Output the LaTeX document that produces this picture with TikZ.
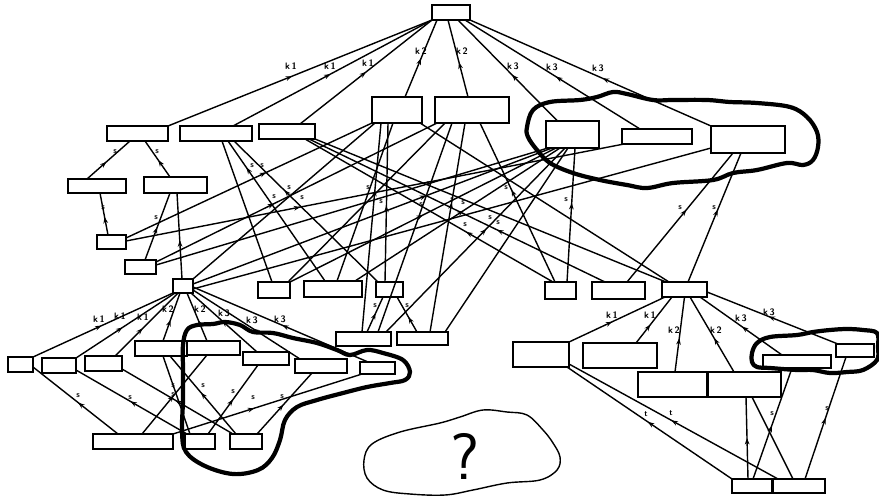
\documentclass[tikz,border=0pt]{standalone}
\usetikzlibrary{arrows.meta,decorations.markings}
\newlength{\pxu}\setlength{\pxu}{0.03cm}
\tikzset{
  bx/.style={draw, line width=1.5pt, fill=white, inner sep=0pt, outer sep=0pt},
  ln/.style={line width=1.2pt},
  marr/.style={postaction={decorate}, decoration={markings, mark=at position #1 with {\arrow{Stealth[length=5.5pt,width=4pt]}}}},
  klab/.style={font=\sffamily\bfseries\fontsize{8}{9}\selectfont, inner sep=0pt},
  slab/.style={font=\sffamily\bfseries\fontsize{7}{8}\selectfont, inner sep=0pt},
  blob/.style={line width=3.6pt, line join=round, line cap=round},
  thinblob/.style={line width=1.2pt, line join=round},
}
\begin{document}
\begin{tikzpicture}[x=0.03cm, y=-0.03cm]
\useasboundingbox (0,0) rectangle (879,499);
% ---------- boxes ----------
\node[bx, minimum width=38\pxu, minimum height=15\pxu] (T) at (451,12.5) {};
\node[bx, minimum width=61\pxu, minimum height=15\pxu] (A1) at (137.5,133.5) {};
\node[bx, minimum width=72\pxu, minimum height=15\pxu] (A2) at (216,133.5) {};
\node[bx, minimum width=56\pxu, minimum height=15\pxu] (A3) at (287,131.5) {};
\node[bx, minimum width=50\pxu, minimum height=26\pxu] (A4) at (397,110) {};
\node[bx, minimum width=74\pxu, minimum height=26\pxu] (A5) at (472,110) {};
\node[bx, minimum width=53\pxu, minimum height=27\pxu] (A6) at (572.5,134.5) {};
\node[bx, minimum width=70\pxu, minimum height=15\pxu] (A7) at (657,136.5) {};
\node[bx, minimum width=74\pxu, minimum height=27\pxu] (A8) at (748,139.5) {};
\node[bx, minimum width=58\pxu, minimum height=14\pxu] (B1) at (97,186) {};
\node[bx, minimum width=63\pxu, minimum height=16\pxu] (B2) at (175.5,185) {};
\node[bx, minimum width=29\pxu, minimum height=14\pxu] (C1) at (111.5,242) {};
\node[bx, minimum width=31\pxu, minimum height=14\pxu] (C2) at (140.5,267) {};
\node[bx, minimum width=20\pxu, minimum height=14\pxu] (D) at (183,286) {};
\node[bx, minimum width=32\pxu, minimum height=16\pxu] (E1) at (274,290) {};
\node[bx, minimum width=58\pxu, minimum height=16\pxu] (E2) at (333,289) {};
\node[bx, minimum width=27\pxu, minimum height=15\pxu] (E3) at (389.5,289.5) {};
\node[bx, minimum width=55\pxu, minimum height=14\pxu] (F1) at (363.5,339) {};
\node[bx, minimum width=51\pxu, minimum height=13\pxu] (F2) at (422.5,338.5) {};
\node[bx, minimum width=31\pxu, minimum height=17\pxu] (G1) at (560.5,290.5) {};
\node[bx, minimum width=53\pxu, minimum height=17\pxu] (G2) at (618.5,290.5) {};
\node[bx, minimum width=45\pxu, minimum height=15\pxu] (H) at (684.5,289.5) {};
\node[bx, minimum width=56\pxu, minimum height=25\pxu] (H1) at (541,354.5) {};
\node[bx, minimum width=74\pxu, minimum height=25\pxu] (H2) at (620,355.5) {};
\node[bx, minimum width=69\pxu, minimum height=25\pxu] (H3) at (672.5,384.5) {};
\node[bx, minimum width=73\pxu, minimum height=25\pxu] (H4) at (744.5,384.5) {};
\node[bx, minimum width=68\pxu, minimum height=13\pxu] (H5) at (797,361.5) {};
\node[bx, minimum width=38\pxu, minimum height=13\pxu] (H6) at (855,350.5) {};
\node[bx, minimum width=40\pxu, minimum height=14\pxu] (J1) at (752,486) {};
\node[bx, minimum width=52\pxu, minimum height=14\pxu] (J2) at (799,486) {};
\node[bx, minimum width=25\pxu, minimum height=15\pxu] (L1) at (20.5,364.5) {};
\node[bx, minimum width=34\pxu, minimum height=15\pxu] (L2) at (59,365.5) {};
\node[bx, minimum width=37\pxu, minimum height=15\pxu] (L3) at (103.5,363.5) {};
\node[bx, minimum width=52\pxu, minimum height=15\pxu] (L4) at (161,348.5) {};
\node[bx, minimum width=53\pxu, minimum height=14\pxu] (L5) at (213.5,348) {};
\node[bx, minimum width=46\pxu, minimum height=13\pxu] (L6) at (266,358.5) {};
\node[bx, minimum width=52\pxu, minimum height=14\pxu] (L7) at (321,366) {};
\node[bx, minimum width=35\pxu, minimum height=12\pxu] (L8) at (377.5,368) {};
\node[bx, minimum width=80\pxu, minimum height=15\pxu] (M1) at (133,441.5) {};
\node[bx, minimum width=30\pxu, minimum height=15\pxu] (M2) at (200,441.5) {};
\node[bx, minimum width=32\pxu, minimum height=15\pxu] (M3) at (246,441.5) {};
% ---------- top fan ----------
\draw[ln,marr=0.47] (A1.north east) -- (T.south west);
\draw[ln,marr=0.49] ([xshift=17\pxu]A2.north) -- (T.south west);
\draw[ln,marr=0.5] ([xshift=13\pxu]A3.north) -- (T.south west);
\draw[ln,marr=0.5] ([xshift=8\pxu]A4.north) -- ([xshift=5\pxu]T.south west);
\draw[ln,marr=0.45] ([xshift=-4\pxu]A5.north) -- ([xshift=-3\pxu]T.south);
\draw[ln,marr=0.46] ([xshift=-15\pxu]A6.north) -- ([xshift=7\pxu]T.south);
\draw[ln,marr=0.48] ([xshift=-17\pxu]A7.north) -- ([xshift=14\pxu]T.south);
\draw[ln,marr=0.45] (A8.north west) -- (T.south east);
\node[klab] (t1) at (291,66) {k\,1};
\node[klab] (t2) at (330,66) {k\,1};
\node[klab] (t3) at (368,63) {k\,1};
\node[klab] (t4) at (421,51) {k\,2};
\node[klab] (t5) at (462,51) {k\,2};
\node[klab] (t6) at (513,66) {k\,3};
\node[klab] (t7) at (552,67) {k\,3};
\node[klab] (t8) at (598,68) {k\,3};
% ---------- left upper cluster ----------
\draw[ln,marr=0.45] ([xshift=-10\pxu]B1.north) -- ([xshift=-7.5\pxu]A1.south);
\draw[ln,marr=0.47] ([xshift=-5.5\pxu]B2.north) -- ([xshift=7.5\pxu]A1.south);
\draw[ln,marr=0.43] ([xshift=-3.5\pxu]C1.north) -- ([xshift=3\pxu]B1.south);
\draw[ln,marr=0.49] ([xshift=4.5\pxu]C2.north) -- ([xshift=-5.5\pxu]B2.south);
\draw[ln,marr=0.45] ([xshift=-1\pxu]D.north) -- ([xshift=1.5\pxu]B2.south);
\node[slab] (s1) at (115,152) {s};
\node[slab] (s2) at (157,152) {s};
\node[slab] (s3) at (103,208) {s};
\node[slab] (s4) at (156,218) {s};
% ---------- middle web ----------
\draw[ln,marr=0.57] ([yshift=4\pxu]C1.east) -- (A4.south west);
\draw[ln,marr=0.42] ([yshift=5\pxu]C2.east) -- ([xshift=2\pxu]A5.south west);
\draw[ln] ([yshift=2\pxu]C2.east) -- ([xshift=2\pxu]A6.south west);
\draw[ln] (D.north east) -- ([xshift=3\pxu]A4.south west);
\draw[ln,marr=0.65] ([yshift=2\pxu]D.east) -- ([xshift=6\pxu]A6.south west);
\draw[ln] ([yshift=-3\pxu]D.east) -- ([yshift=-8.5\pxu]A8.west);
\draw[ln,marr=0.35] ([yshift=1\pxu]C1.east) -- ([xshift=2\pxu]A7.south west);
\draw[ln] ([xshift=-2\pxu]E1.north) -- ([xshift=6\pxu]A2.south);
\draw[ln,marr=0.81] ([xshift=-8\pxu]E2.north) -- ([xshift=12\pxu]A2.south);
\draw[ln,marr=0.65] ([xshift=-11.5\pxu]E3.north) -- ([xshift=18\pxu]A2.south);
\draw[ln] ([xshift=14\pxu]E1.north) -- ([xshift=-27\pxu]A5.south);
\draw[ln,marr=0.5] (E1.north east) -- ([xshift=10\pxu]A6.south west);
\draw[ln] ([xshift=4\pxu]E2.north) -- ([xshift=-4\pxu]A4.south);
\draw[ln,marr=0.53] ([xshift=22\pxu]E2.north) -- ([xshift=14\pxu]A6.south west);
\draw[ln,marr=0.48] ([xshift=-4.5\pxu]E3.north) -- ([xshift=-9\pxu]A4.south);
\draw[ln,marr=0.68] ([xshift=-1.5\pxu]F1.north) -- ([xshift=-16\pxu]A4.south);
\draw[ln] ([xshift=14.5\pxu]F1.north) -- ([xshift=-20\pxu]A5.south);
\draw[ln,marr=0.56] ([xshift=22.5\pxu]F1.north) -- ([xshift=-7.5\pxu]A6.south);
\draw[ln,marr=0.62] ([xshift=7.5\pxu]F2.north) -- ([xshift=-7\pxu]A5.south);
\draw[ln] ([xshift=22.5\pxu]F2.north) -- ([xshift=-4.5\pxu]A6.south);
\draw[ln,marr=0.58] ([xshift=-5.5\pxu]G1.north) -- ([xshift=8\pxu]A5.south);
\draw[ln,marr=0.59] ([xshift=6.5\pxu]G1.north) -- ([xshift=2.5\pxu]A6.south);
\draw[ln,marr=0.35] ([xshift=-7.5\pxu]G1.north) -- ([xshift=18\pxu]A3.south);
\draw[ln,marr=0.365] ([xshift=-13.5\pxu]G2.north) -- ([xshift=22\pxu]A3.south);
\draw[ln] ([xshift=-18.5\pxu]H.north) -- (A3.south east);
\draw[ln] ([xshift=-15.5\pxu]H.north) -- ([xshift=23\pxu]A4.south);
\draw[ln,marr=0.56] ([xshift=8.5\pxu]G2.north) -- ([xshift=-15\pxu]A8.south);
\draw[ln,marr=0.56] ([xshift=3.5\pxu]H.north) -- ([xshift=-7\pxu]A8.south);
\draw[ln,marr=0.54] ([xshift=3.5\pxu]F1.north) -- ([xshift=-6.5\pxu]E3.south);
\draw[ln,marr=0.43] ([xshift=-5.5\pxu]F2.north) -- ([xshift=7.5\pxu]E3.south);
\node[slab] (s5) at (262,166) {s};
\node[slab] (s6) at (274,197) {s};
\node[slab] (s7) at (428,184) {s};
\node[slab] (s8) at (302,198) {s};
\node[slab] (s9) at (252,166) {s};
\node[slab] (s10) at (289,188) {s};
\node[slab] (s11) at (421,205) {s};
\node[slab] (s12) at (463,203) {s};
\node[slab] (s13) at (381,202) {s};
\node[slab] (s14) at (368,188) {s};
\node[slab] (s15) at (490,218) {s};
\node[slab] (s16) at (452,200) {s};
\node[slab] (s17) at (506,188) {s};
\node[slab] (s18) at (566,200) {s};
\node[slab] (s19) at (465,225) {s};
\node[slab] (s20) at (498,223) {s};
\node[slab] (s21) at (680,208) {s};
\node[slab] (s22) at (714,208) {s};
\node[slab] (s23) at (375,306) {s};
\node[slab] (s24) at (407,306) {s};
% ---------- left hub ----------
\draw[ln,marr=0.49] (L1.north east) -- (D.south west);
\draw[ln,marr=0.47] (L2.north east) -- ([xshift=2\pxu]D.south west);
\draw[ln,marr=0.44] ([xshift=11.5\pxu]L3.north) -- ([xshift=-5\pxu]D.south);
\draw[ln,marr=0.44] ([xshift=2\pxu]L4.north) -- ([xshift=-3\pxu]D.south);
\draw[ln,marr=0.44] ([xshift=-6.5\pxu]L5.north) -- ([xshift=4\pxu]D.south);
\draw[ln,marr=0.53] ([xshift=-9\pxu]L6.north) -- ([xshift=8\pxu]D.south);
\draw[ln,marr=0.44] ([xshift=-21\pxu]L7.north) -- ([yshift=-4\pxu]D.east);
\draw[ln,marr=0.49] ([xshift=-9.5\pxu]L8.north) -- ([yshift=-1\pxu]D.east);
\node[klab] (d1) at (99,319) {k\,1};
\node[klab] (d2) at (120,316) {k\,1};
\node[klab] (d3) at (143,317) {k\,1};
\node[klab] (d4) at (168,309) {k\,2};
\node[klab] (d5) at (200,309) {k\,2};
\node[klab] (d6) at (224,313) {k\,3};
\node[klab] (d7) at (252,320) {k\,3};
\node[klab] (d8) at (280,319) {k\,3};
% ---------- lower left ----------
\draw[ln,marr=0.47] ([xshift=-15\pxu]M1.north) -- ([yshift=-2.5\pxu]L1.east);
\draw[ln,marr=0.51] ([xshift=-13\pxu]M2.north) -- ([yshift=-4.5\pxu]L2.east);
\draw[ln,marr=0.52] ([xshift=-13\pxu]M3.north) -- ([yshift=-5.5\pxu]L3.east);
\draw[ln] ([xshift=-10\pxu]M2.north) -- ([xshift=2\pxu]L4.south);
\draw[ln,marr=0.53] ([xshift=-10\pxu]M3.north) -- ([xshift=9\pxu]L4.south);
\draw[ln,marr=0.49] ([xshift=9\pxu]M1.north) -- ([xshift=-6.5\pxu]L5.south);
\draw[ln,marr=0.5] ([xshift=8\pxu]M2.north) -- ([xshift=-8\pxu]L6.south);
\draw[ln,marr=0.43] (M1.north east) -- ([xshift=-15.5\pxu]L8.south);
\draw[ln,marr=0.48] ([xshift=11\pxu]M3.north) -- ([xshift=-9\pxu]L7.south);
\node[slab] (m1) at (78,396) {s};
\node[slab] (m2) at (130,398) {s};
\node[slab] (m3) at (173,386) {s};
\node[slab] (m4) at (173,395) {s};
\node[slab] (m5) at (203,386) {s};
\node[slab] (m6) at (233,392) {s};
\node[slab] (m7) at (253,398) {s};
\node[slab] (m8) at (282,397) {s};
% ---------- right hub ----------
\draw[ln,marr=0.45] (H1.north east) -- ([xshift=3\pxu]H.south west);
\draw[ln,marr=0.4] ([xshift=16\pxu]H2.north) -- ([xshift=-12.5\pxu]H.south);
\draw[ln,marr=0.45] ([xshift=2.5\pxu]H3.north) -- (H.south);
\draw[ln,marr=0.45] ([xshift=-10.5\pxu]H4.north) -- ([xshift=5.5\pxu]H.south);
\draw[ln,marr=0.49] ([xshift=-15\pxu]H5.north) -- ([xshift=15.5\pxu]H.south);
\draw[ln,marr=0.53] ([xshift=2\pxu]H6.north west) -- ([yshift=-2.5\pxu]H.east);
\node[klab] (h1) at (612,315) {k\,1};
\node[klab] (h2) at (650,315) {k\,1};
\node[klab] (h3) at (674,330) {k\,2};
\node[klab] (h4) at (716,330) {k\,2};
\node[klab] (h5) at (741,318) {k\,3};
\node[klab] (h6) at (769,312) {k\,3};
\draw[ln,marr=0.51] (J1.north west) -- ([xshift=-2\pxu]H1.south east);
\draw[ln,marr=0.51] ([xshift=-21\pxu]J2.north) -- ([yshift=-9.5\pxu]H1.east);
\draw[ln,marr=0.5] ([xshift=-4\pxu]J1.north) -- ([xshift=1.5\pxu]H4.south);
\draw[ln] ([xshift=-6\pxu]J2.north) -- ([xshift=7.5\pxu]H4.south);
\draw[ln,marr=0.48] ([xshift=1\pxu]J1.north) -- ([xshift=-5\pxu]H5.south);
\draw[ln,marr=0.5] ([xshift=6\pxu]J2.north) -- ([xshift=-9\pxu]H6.south);
\node[slab] (r1) at (646,414) {t};
\node[slab] (r2) at (671,413) {t};
\node[slab] (r3) at (772,414) {s};
\node[slab] (r4) at (827,409) {s};
% ---------- blobs ----------
\draw[blob] plot[smooth cycle, tension=0.6] coordinates {(527,127) (533,110) (550,102) (580,100) (597,97) (613,92) (627,94) (653,100) (673,100) (707,100) (730,102) (757,103) (790,107) (807,117) (817,132) (818,147) (813,160) (803,165) (787,163) (757,170) (733,173) (713,180) (673,183) (647,188) (627,185) (600,180) (573,173) (550,163) (537,150) (528,137)};
\draw[blob] plot[smooth cycle, tension=0.6] coordinates {(752,353) (757,343) (770,337) (797,335) (813,332) (830,330) (847,329) (863,330) (877,333) (878,347) (877,360) (863,370) (847,372) (830,373) (813,370) (797,370) (770,368) (757,367) (752,362)};
\draw[blob] plot[smooth cycle, tension=0.6] coordinates {(183,345) (187,330) (197,325) (213,324) (225,322) (240,325) (253,332) (273,333) (293,338) (317,343) (337,350) (350,355) (367,350) (383,353) (403,360) (410,372) (405,380) (390,383) (367,387) (343,393) (317,400) (297,407) (285,420) (280,440) (272,458) (258,470) (233,474) (205,466) (186,452) (182,432) (183,400) (183,370)};
\draw[thinblob] plot[smooth cycle, tension=0.6] coordinates {(440,423) (460,417) (483,410) (507,412) (527,415) (543,430) (553,443) (560,457) (557,470) (540,480) (507,483) (473,490) (445,495) (410,494) (383,490) (367,478) (364,460) (372,444) (400,432)};
\node[font=\sffamily\fontsize{56}{60}\selectfont, inner sep=0pt] (q) at (465,456) {?};
\end{tikzpicture}
\end{document}
